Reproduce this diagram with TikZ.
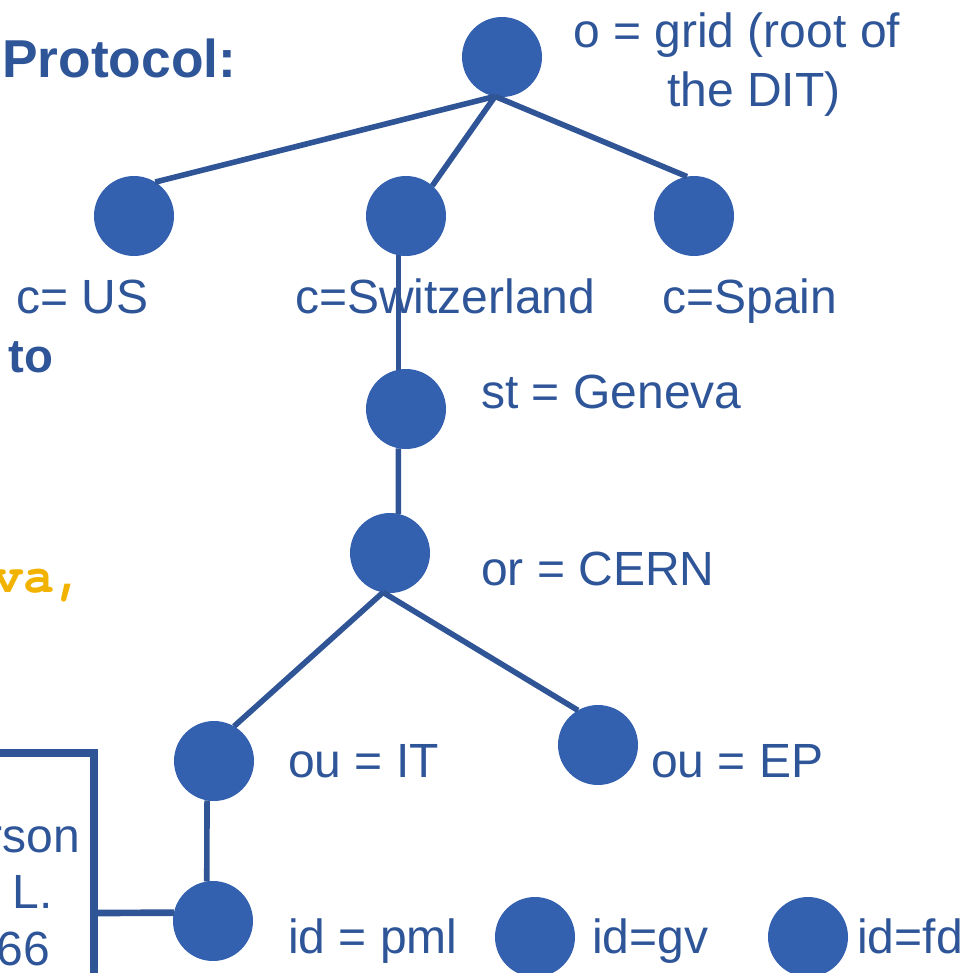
\documentclass[tikz,border=0pt]{standalone}
\usepackage{fontspec}
\setmainfont{Liberation Sans}
\newfontfamily\monob{TeX Gyre Cursor}
\definecolor{dotblue}{HTML}{3461AF}
\definecolor{lnblue}{HTML}{2F5597}
\definecolor{txtblue}{HTML}{2F5599}
\definecolor{gold}{HTML}{F2B300}
\begin{document}
\begin{tikzpicture}[x=0.75pt,y=-0.75pt,
  dot/.style={circle,fill=dotblue,minimum size=60pt,inner sep=0pt,outer sep=0pt},
  lbl/.style={anchor=base west,inner sep=0pt,text=txtblue,font=\fontsize{36}{43}\selectfont},
  lblr/.style={anchor=base east,inner sep=0pt,text=txtblue,font=\fontsize{36}{43}\selectfont},
  edge/.style={draw=lnblue,line width=4.2pt},
]
\useasboundingbox (0,0) rectangle (960,973);
\clip (0,0) rectangle (960,973);

% left-hand slide text (cut by the frame)
\node[anchor=base west,inner sep=0pt,text=txtblue,font=\fontsize{40}{48}\selectfont\bfseries] (proto) at (2,78) {Protocol:};
\node[anchor=base west,inner sep=0pt,text=txtblue,font=\fontsize{35.5}{42}\selectfont\bfseries] (to) at (8,372) {to};
\node[anchor=base west,inner sep=0pt,text=gold,font=\fontsize{39}{46}\selectfont\monob\bfseries] (va) at (-8,592) {va,};

% box
\node[draw=lnblue,line width=5.5pt,minimum width=295.5pt,minimum height=240pt,inner sep=0pt] (box) at (-103,913) {};
\node[lblr] (t1) at (80,852) {rson};
\node[lblr] (t2) at (53,908) {L.};
\node[lblr] (t3) at (50,965) {66};

% tree nodes
\node[dot] (root) at (502,57) {};
\node[dot] (us) at (134,216) {};
\node[dot] (sw) at (406,216) {};
\node[dot] (es) at (694,216) {};
\node[dot] (ge) at (406,409) {};
\node[dot] (ce) at (390,553) {};
\node[dot] (it) at (214,761) {};
\node[dot] (ep) at (598,745) {};
\node[dot] (pml) at (213,921) {};
\node[dot] (gv) at (535,937) {};
\node[dot] (fd) at (808,937) {};

% labels
\node[lbl] (lroot1) at (573,48) {o = grid (root of};
\node[lbl] (lroot2) at (667,107) {the DIT)};
\node[lbl] (lus) at (16,313) {c= US};
\node[lbl] (lsw) at (295,313) {c=Switzerland};
\node[lbl] (les) at (662,313) {c=Spain};
\node[lbl] (lge) at (481,408) {st = Geneva};
\node[lbl] (lce) at (481,585) {or = CERN};
\node[lbl] (lit) at (288,777) {ou = IT};
\node[lbl] (lep) at (651,777) {ou = EP};
\node[lbl] (lpml) at (288,953) {id = pml};
\node[lbl] (lgv) at (592,953) {id=gv};
\node[lbl] (lfd) at (857,953) {id=fd};

% connectors
\path[edge] (root.-100) -- (us.58);
\path[edge] (root.-100) -- (sw.49);
\path[edge] (root.-100) -- (es.100);
\path[edge] (sw.-101.5) -- (ge.101.5);
\path[edge] (ge.-101.5) -- (ce.78.5);
\path[edge] (ce.-100) -- (it.60);
\path[edge] (ce.-100) -- (ep.120);
\path[edge] (it.-100) -- (pml.99);
\path[draw=lnblue,line width=5pt] (box.east) -- (pml.168);
\end{tikzpicture}
\end{document}
